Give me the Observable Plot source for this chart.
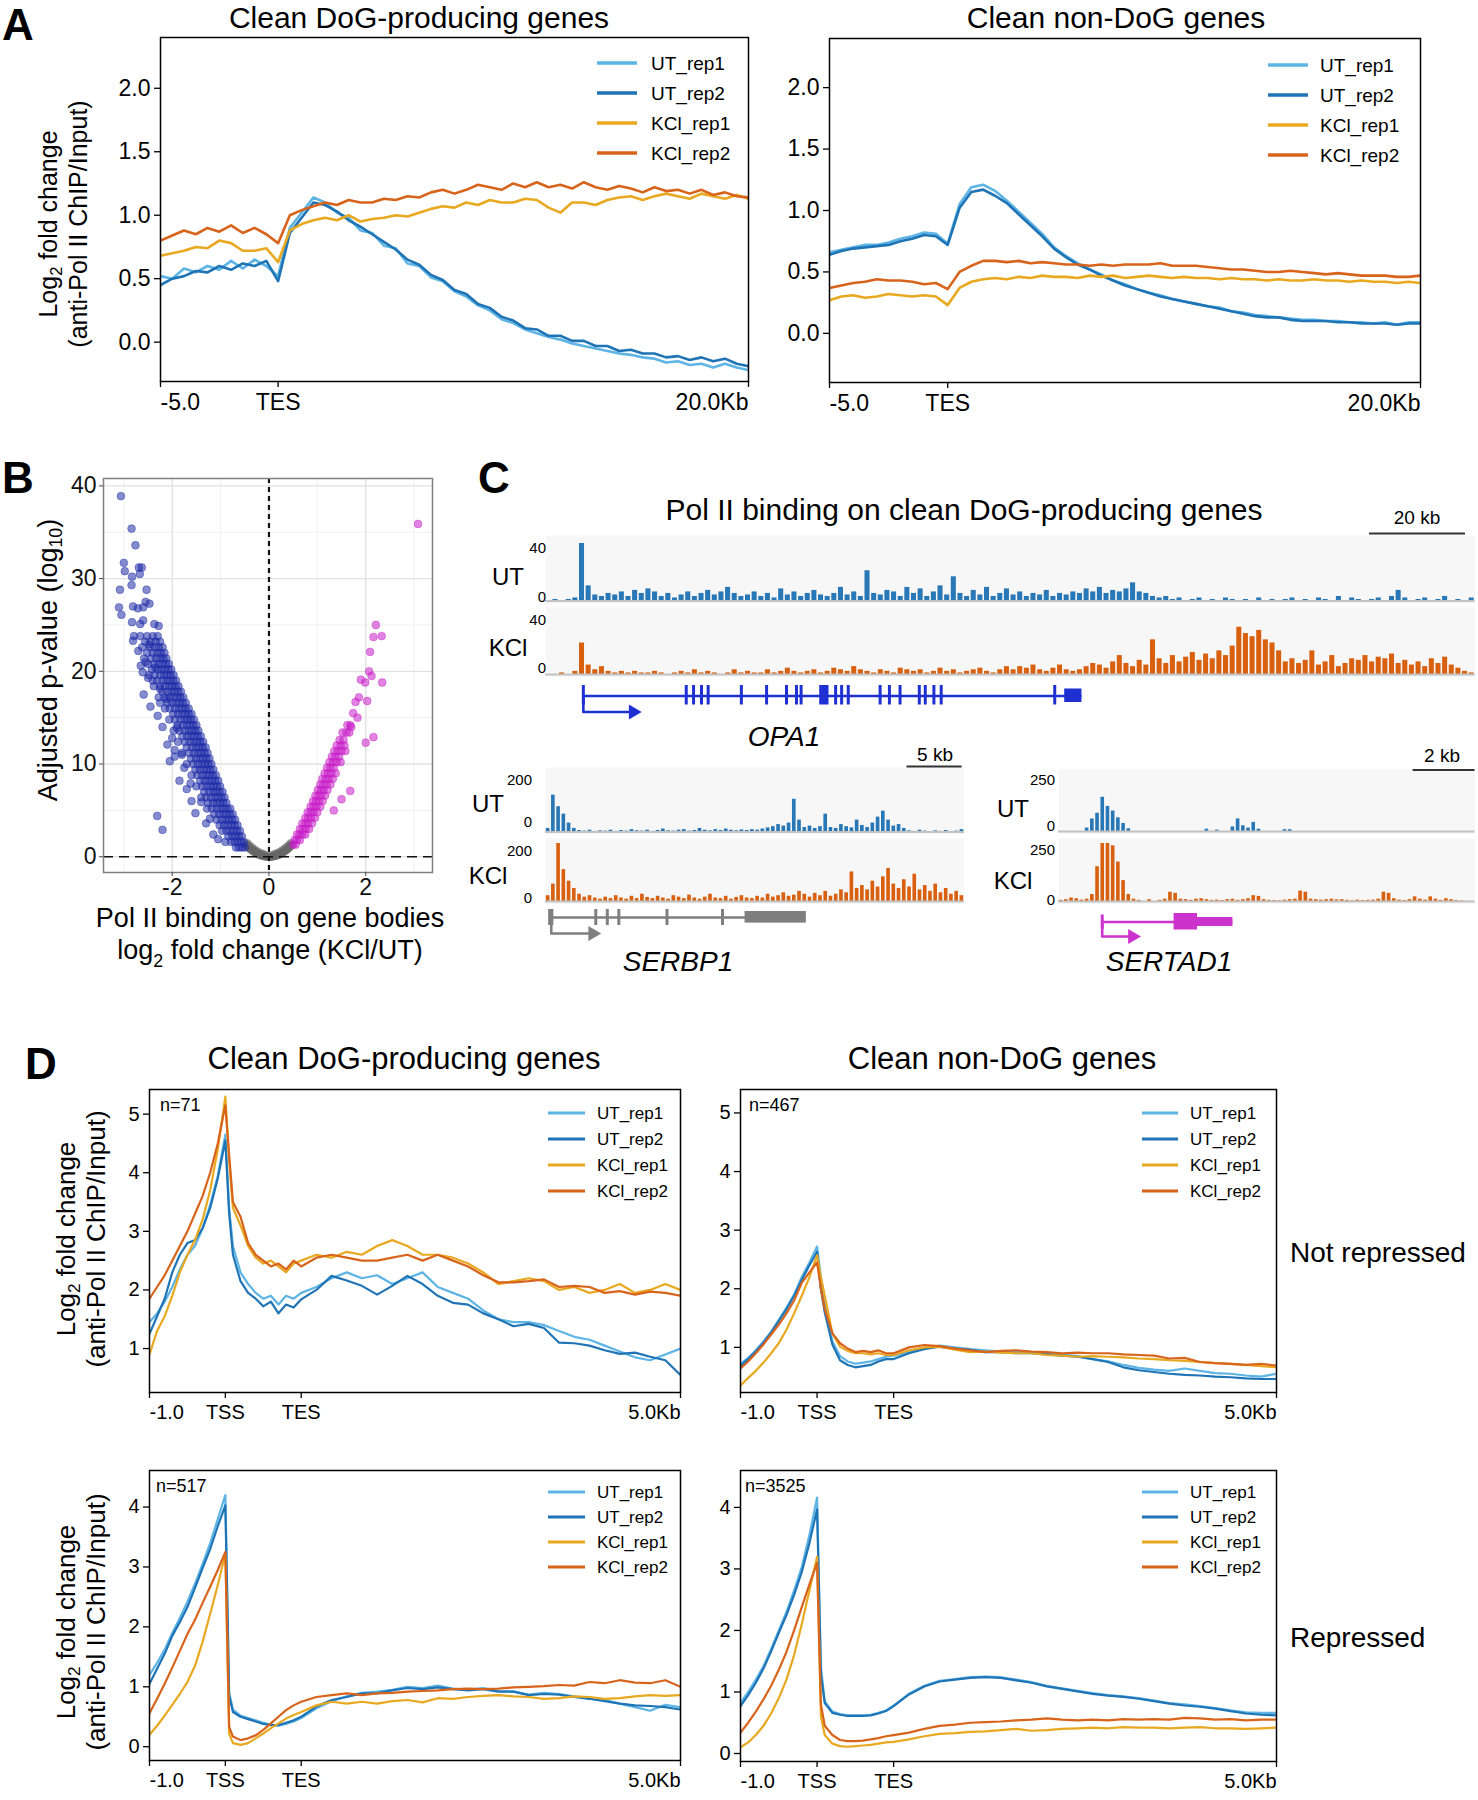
<!DOCTYPE html>
<html><head><meta charset="utf-8">
<script src="https://cdn.jsdelivr.net/npm/d3@7"></script>
<script src="https://cdn.jsdelivr.net/npm/@observablehq/plot@0.6"></script>
<style>
body{margin:0;background:#fff;}
#fig{position:relative;width:1478px;height:1800px;overflow:hidden;background:#fff;}
</style></head><body><div id="fig"></div>
<script>
// ---------------- DATA ----------------
const seriesNames = ["UT_rep1","UT_rep2","KCl_rep1","KCl_rep2"];

// Panel A: profiles around TES, sampled every 0.5 kb from -5 to 20 kb
const xA = d3.range(-5, 20.001, 0.5);
const aL_UT1 = [0.52,0.5,0.58,0.55,0.6,0.57,0.64,0.58,0.65,0.6,0.52, 0.9,1.02,1.14,1.1,1.02,0.98,0.88,0.86,0.76,0.74,0.62,0.6,0.51,0.48,0.4,0.36,0.29,0.25,0.18,0.15,0.1,0.07,0.04,0.02,-0.01,-0.03,-0.05,-0.07,-0.09,-0.1,-0.12,-0.13,-0.16,-0.15,-0.18,-0.17,-0.2,-0.17,-0.2,-0.22];
const aL_UT2 = [0.45,0.5,0.52,0.56,0.55,0.6,0.57,0.62,0.6,0.64,0.48, 0.86,0.98,1.1,1.08,1.03,0.96,0.91,0.85,0.79,0.73,0.65,0.61,0.53,0.49,0.41,0.38,0.3,0.27,0.2,0.17,0.11,0.1,0.05,0.05,0.01,0.01,-0.03,-0.03,-0.07,-0.06,-0.09,-0.09,-0.12,-0.11,-0.14,-0.12,-0.15,-0.13,-0.17,-0.19];
const aL_K1 = [0.68,0.7,0.72,0.75,0.74,0.8,0.78,0.72,0.72,0.74,0.63, 0.88,0.93,0.96,0.98,0.96,1.0,0.95,0.97,0.98,1.0,0.99,1.02,1.05,1.07,1.06,1.1,1.08,1.12,1.1,1.1,1.13,1.12,1.06,1.02,1.1,1.1,1.08,1.12,1.14,1.15,1.12,1.15,1.17,1.15,1.13,1.17,1.15,1.13,1.16,1.13];
const aL_K2 = [0.8,0.84,0.88,0.85,0.9,0.87,0.92,0.86,0.9,0.85,0.78, 1.0,1.04,1.07,1.1,1.08,1.12,1.1,1.1,1.13,1.12,1.15,1.14,1.18,1.2,1.17,1.2,1.24,1.22,1.2,1.25,1.22,1.26,1.22,1.24,1.21,1.26,1.22,1.2,1.23,1.21,1.18,1.22,1.19,1.2,1.17,1.2,1.16,1.18,1.15,1.14];
const aR_UT1 = [0.66,0.68,0.7,0.72,0.72,0.74,0.77,0.79,0.82,0.81,0.73, 1.05,1.19,1.21,1.16,1.08,0.99,0.9,0.81,0.7,0.63,0.57,0.52,0.48,0.43,0.4,0.36,0.33,0.31,0.28,0.26,0.24,0.22,0.21,0.18,0.17,0.15,0.14,0.13,0.12,0.11,0.11,0.1,0.1,0.09,0.09,0.08,0.09,0.07,0.09,0.09];
const aR_UT2 = [0.64,0.67,0.69,0.7,0.71,0.72,0.75,0.77,0.8,0.79,0.72, 1.02,1.15,1.17,1.12,1.06,0.97,0.88,0.79,0.69,0.62,0.56,0.52,0.47,0.43,0.39,0.36,0.33,0.3,0.28,0.26,0.24,0.22,0.2,0.18,0.16,0.14,0.13,0.13,0.11,0.1,0.1,0.1,0.09,0.09,0.08,0.08,0.08,0.07,0.08,0.08];
const aR_K1 = [0.27,0.3,0.31,0.29,0.3,0.32,0.31,0.3,0.31,0.3,0.23, 0.37,0.42,0.44,0.45,0.44,0.46,0.45,0.47,0.46,0.46,0.45,0.47,0.46,0.47,0.45,0.46,0.47,0.46,0.45,0.46,0.45,0.45,0.44,0.45,0.44,0.44,0.43,0.44,0.43,0.43,0.44,0.43,0.43,0.42,0.43,0.42,0.42,0.41,0.42,0.41];
const aR_K2 = [0.37,0.39,0.41,0.42,0.44,0.43,0.43,0.42,0.4,0.41,0.36, 0.5,0.55,0.59,0.59,0.58,0.59,0.57,0.58,0.57,0.56,0.56,0.55,0.56,0.55,0.56,0.56,0.56,0.57,0.55,0.55,0.55,0.54,0.53,0.52,0.52,0.51,0.5,0.5,0.51,0.5,0.49,0.48,0.49,0.48,0.47,0.47,0.47,0.46,0.46,0.47];

// Panel D: scaled-region profiles (-1 kb .. TSS=0 .. TES=1 .. +5 kb = 6)
const xD = [-1,-0.9,-0.8,-0.7,-0.6,-0.5,-0.4,-0.3,-0.2,-0.1,0,0.05,0.1,0.2,0.3,0.4,0.5,0.6,0.7,0.8,0.9,1,1.2,1.4,1.6,1.8,2,2.2,2.4,2.6,2.8,3,3.2,3.4,3.6,3.8,4,4.2,4.4,4.6,4.8,5,5.2,5.4,5.6,5.8,6];
const tl_UT1 = [1.45,1.6,1.8,2.05,2.35,2.6,2.75,3.05,3.45,3.95,4.65, 3.4,2.75,2.3,2.1,1.95,1.85,1.9,1.75,1.9,1.85,1.95, 2.05,2.2,2.3,2.2,2.25,2.1,2.2,2.3,2.05,1.95,1.85,1.65,1.5,1.45,1.45,1.4,1.3,1.2,1.15,1.05,0.95,0.85,0.8,0.9,1.0];
const tl_UT2 = [1.25,1.55,1.85,2.3,2.6,2.8,2.85,3.05,3.4,3.9,4.55, 3.3,2.6,2.15,1.95,1.85,1.72,1.8,1.6,1.75,1.7,1.84, 2.0,2.24,2.16,2.07,1.92,2.07,2.24,2.1,1.9,1.78,1.75,1.6,1.5,1.38,1.42,1.35,1.1,1.09,1.05,0.97,0.91,0.93,0.86,0.8,0.55];
const tl_K1 = [0.9,1.3,1.55,1.9,2.3,2.6,2.85,3.2,3.7,4.4,5.3, 4.2,3.4,3.1,2.75,2.55,2.45,2.5,2.4,2.3,2.45,2.5, 2.6,2.55,2.65,2.6,2.75,2.85,2.75,2.6,2.6,2.55,2.45,2.3,2.1,2.15,2.2,2.15,2.0,2.05,1.95,2.0,2.1,1.95,2.0,2.1,2.0];
const tl_K2 = [1.85,2.05,2.25,2.5,2.75,3.0,3.3,3.6,4.0,4.5,5.15, 4.3,3.5,3.25,2.8,2.6,2.5,2.4,2.45,2.35,2.5,2.4, 2.55,2.6,2.55,2.5,2.5,2.55,2.6,2.5,2.6,2.5,2.4,2.25,2.13,2.13,2.15,2.18,2.05,2.07,2.05,1.95,1.98,1.92,1.97,1.95,1.9];
const tr_UT1 = [0.72,0.82,0.95,1.1,1.27,1.47,1.68,1.9,2.2,2.45,2.72, 2.2,1.75,1.1,0.85,0.76,0.72,0.74,0.76,0.8,0.84,0.86, 0.92,0.98,1.03,1.0,0.97,0.95,0.93,0.94,0.92,0.9,0.88,0.85,0.8,0.76,0.7,0.65,0.62,0.6,0.64,0.6,0.56,0.55,0.52,0.5,0.55];
const tr_UT2 = [0.68,0.8,0.93,1.08,1.25,1.45,1.65,1.88,2.15,2.4,2.63, 2.0,1.6,1.05,0.78,0.7,0.66,0.68,0.7,0.76,0.8,0.8, 0.9,0.97,1.01,0.98,0.96,0.92,0.92,0.9,0.9,0.88,0.86,0.84,0.8,0.75,0.66,0.61,0.58,0.55,0.53,0.52,0.5,0.49,0.47,0.46,0.46];
const tr_K1 = [0.35,0.48,0.6,0.74,0.9,1.07,1.3,1.58,1.88,2.2,2.57, 2.2,1.88,1.24,1.01,0.94,0.9,0.9,0.88,0.9,0.87,0.87, 0.95,1.0,1.01,0.96,0.92,0.93,0.91,0.9,0.9,0.87,0.86,0.84,0.85,0.84,0.83,0.81,0.8,0.78,0.77,0.75,0.73,0.72,0.7,0.68,0.66];
const tr_K2 = [0.64,0.76,0.9,1.05,1.22,1.39,1.58,1.8,2.1,2.28,2.45, 2.0,1.65,1.24,1.07,0.98,0.92,0.94,0.92,0.95,0.9,0.9, 1.0,1.04,1.02,0.98,0.95,0.92,0.94,0.95,0.93,0.92,0.9,0.91,0.9,0.9,0.88,0.87,0.86,0.81,0.82,0.75,0.73,0.72,0.7,0.72,0.69];
const bl_UT1 = [1.2,1.4,1.62,1.9,2.15,2.42,2.72,3.05,3.4,3.8,4.2, 0.9,0.62,0.52,0.48,0.44,0.4,0.37,0.35,0.38,0.42,0.48, 0.64,0.76,0.84,0.9,0.92,0.95,1.0,0.98,1.02,0.97,0.95,0.98,0.93,0.92,0.87,0.9,0.88,0.84,0.8,0.78,0.72,0.66,0.6,0.7,0.66];
const bl_UT2 = [1.05,1.3,1.55,1.85,2.08,2.33,2.65,2.98,3.3,3.68,4.03, 0.85,0.58,0.5,0.46,0.42,0.38,0.36,0.36,0.4,0.44,0.5, 0.67,0.78,0.83,0.89,0.89,0.94,0.98,0.96,0.99,0.96,0.94,0.96,0.92,0.92,0.86,0.88,0.87,0.83,0.8,0.76,0.72,0.69,0.68,0.66,0.62];
const bl_K1 = [0.2,0.35,0.52,0.7,0.88,1.08,1.35,1.75,2.22,2.7,3.22, 0.22,0.06,0.03,0.06,0.14,0.22,0.31,0.39,0.47,0.53,0.58, 0.69,0.75,0.72,0.75,0.72,0.76,0.78,0.74,0.81,0.8,0.83,0.85,0.86,0.84,0.83,0.8,0.81,0.84,0.83,0.8,0.81,0.84,0.86,0.85,0.86];
const bl_K2 = [0.56,0.8,1.05,1.32,1.6,1.88,2.12,2.4,2.67,2.95,3.25, 0.33,0.17,0.11,0.14,0.19,0.28,0.39,0.5,0.61,0.69,0.75, 0.83,0.86,0.89,0.86,0.89,0.9,0.92,0.93,0.94,0.96,0.97,0.96,0.97,0.99,1.0,1.01,1.03,1.02,1.08,1.06,1.11,1.07,1.06,1.11,1.0];
const br_UT1 = [0.82,1.0,1.2,1.42,1.7,2.0,2.3,2.65,3.03,3.55,4.16, 1.4,0.85,0.68,0.64,0.62,0.62,0.62,0.63,0.66,0.7,0.78, 0.97,1.1,1.18,1.21,1.24,1.25,1.24,1.2,1.16,1.1,1.06,1.02,0.98,0.95,0.93,0.9,0.86,0.82,0.8,0.77,0.74,0.7,0.67,0.66,0.66];
const br_UT2 = [0.77,0.95,1.15,1.38,1.66,1.96,2.25,2.58,2.95,3.42,3.97, 1.3,0.82,0.66,0.63,0.61,0.61,0.61,0.62,0.65,0.69,0.77, 0.96,1.09,1.17,1.2,1.23,1.24,1.23,1.19,1.15,1.09,1.05,1.01,0.97,0.94,0.92,0.89,0.85,0.81,0.78,0.76,0.73,0.69,0.65,0.63,0.62];
const br_K1 = [0.1,0.18,0.3,0.45,0.65,0.9,1.2,1.6,2.1,2.65,3.2, 0.6,0.3,0.16,0.12,0.11,0.12,0.13,0.14,0.16,0.18,0.19, 0.23,0.28,0.32,0.33,0.35,0.36,0.38,0.4,0.37,0.38,0.4,0.41,0.42,0.41,0.43,0.42,0.42,0.41,0.42,0.43,0.41,0.41,0.4,0.41,0.42];
const br_K2 = [0.34,0.5,0.68,0.88,1.1,1.36,1.65,2.0,2.38,2.75,3.1, 0.8,0.45,0.3,0.22,0.2,0.2,0.21,0.23,0.25,0.28,0.3, 0.34,0.4,0.45,0.47,0.5,0.51,0.52,0.54,0.55,0.57,0.55,0.54,0.55,0.54,0.56,0.55,0.56,0.55,0.58,0.57,0.55,0.56,0.54,0.55,0.55];
const nLabels = ["n=71","n=467","n=517","n=3525"];

// Panel B: volcano (log2FC, -log10 adj p); rows = [y, x1, x2, ...]
const downRows = [
[1.0,-0.50,-0.56,-0.62,-0.68],[1.6,-0.52,-0.58,-0.64,-0.71,-0.78],[2.2,-0.56,-0.62,-0.69,-0.76,-0.84],
[2.8,-0.60,-0.66,-0.73,-0.80,-0.88,-0.97],[3.4,-0.65,-0.71,-0.78,-0.85,-0.93,-1.02],[4.0,-0.70,-0.76,-0.83,-0.90,-0.98,-1.08],
[4.6,-0.75,-0.81,-0.88,-0.95,-1.03,-1.13],[5.2,-0.80,-0.86,-0.93,-1.00,-1.08,-1.18,-1.28],[5.8,-0.88,-0.94,-1.01,-1.08,-1.16,-1.26],
[6.4,-0.92,-0.98,-1.05,-1.12,-1.20,-1.30,-1.40],[7.0,-0.96,-1.02,-1.09,-1.16,-1.24,-1.34],[7.6,-1.01,-1.07,-1.14,-1.21,-1.29,-1.38,-1.50],
[8.2,-1.05,-1.11,-1.18,-1.25,-1.33,-1.42],[8.8,-1.10,-1.16,-1.23,-1.30,-1.38,-1.48,-1.60],[9.4,-1.15,-1.21,-1.28,-1.35,-1.43,-1.52],
[10.0,-1.19,-1.25,-1.32,-1.39,-1.47,-1.57,-1.70],[10.6,-1.23,-1.29,-1.36,-1.43,-1.51,-1.61],[11.2,-1.27,-1.33,-1.40,-1.47,-1.55,-1.65,-1.80],
[11.8,-1.31,-1.37,-1.44,-1.51,-1.59,-1.70],[12.4,-1.36,-1.42,-1.49,-1.56,-1.64,-1.74,-1.88],[13.0,-1.41,-1.47,-1.54,-1.61,-1.69,-1.79],
[13.6,-1.46,-1.52,-1.59,-1.66,-1.74,-1.85,-1.97],[14.2,-1.50,-1.56,-1.63,-1.70,-1.78,-1.89],[14.8,-1.55,-1.61,-1.68,-1.75,-1.83,-1.94,-2.06],
[15.4,-1.60,-1.66,-1.73,-1.80,-1.88,-1.98],[16.0,-1.66,-1.72,-1.79,-1.86,-1.94,-2.05,-2.15],[16.6,-1.72,-1.78,-1.85,-1.92,-2.00,-2.10],
[17.2,-1.77,-1.83,-1.90,-1.97,-2.05,-2.16,-2.28],[17.8,-1.82,-1.88,-1.95,-2.02,-2.10,-2.20],[18.4,-1.87,-1.93,-2.00,-2.07,-2.15,-2.25,-2.38],
[19.0,-1.92,-1.98,-2.05,-2.12,-2.20,-2.31],[19.6,-1.97,-2.03,-2.10,-2.17,-2.25,-2.36,-2.48],[20.2,-2.02,-2.08,-2.15,-2.22,-2.30,-2.42],
[20.8,-2.07,-2.13,-2.20,-2.28,-2.37,-2.50],[21.4,-2.12,-2.18,-2.25,-2.33,-2.43,-2.58],[22.0,-2.16,-2.23,-2.31,-2.40,-2.52],
[22.6,-2.20,-2.28,-2.36,-2.46,-2.62],[23.2,-2.25,-2.34,-2.44,-2.56],[23.8,-2.30,-2.40,-2.52,-2.66]];
const downExtra = [[-3.06,38.9],[-2.84,35.4],[-2.76,33.6],[-3.0,31.7],[-2.98,30.8],[-2.69,31.2],[-2.63,31.2],[-2.83,30.2],[-2.67,30.5],[-2.84,29.3],[-3.08,28.8],[-2.53,28.8],[-3.1,26.9],[-3.05,26.1],[-2.81,27.0],[-2.71,26.8],[-2.6,26.9],[-2.55,27.5],[-2.47,27.3],[-2.83,25.3],[-2.66,25.1],[-2.6,25.5],[-2.37,25.1],[-2.28,24.9],[-2.79,23.8],[-2.81,23.3],[-2.31,4.4],[-2.2,2.9],[-2.05,10.3],[-2.59,17.5],[-2.61,19.9],[-2.45,16.2],[-2.55,21.0],[-2.7,22.2],[-2.4,19.0],[-2.2,14.0],[-1.95,11.5],[-2.3,15.2],[-1.85,8.2],[-1.6,6.0],[-1.7,7.3],[-2.0,12.8],[-1.3,3.6],[-1.15,2.4],[-0.9,1.6],[-1.05,1.9],
[-1.52,4.7],[-1.75,9.6],[-1.9,13.9],[-2.12,17.0],[-2.25,18.1],[-2.35,20.4],[-2.48,22.9],[-1.62,7.9],[-1.4,5.9],[-1.22,4.1],[-1.95,10.8],[-2.1,12.1],[-2.5,19.3],[-2.65,20.6],[-1.8,11.0],[-2.25,16.6]];
const upRows = [
[1.3,0.50,0.55],[1.8,0.53,0.58,0.64],[2.4,0.58,0.63,0.69,0.75],[3.0,0.64,0.70,0.76,0.83],[3.6,0.69,0.75,0.81,0.89],
[4.2,0.75,0.81,0.87,0.95],[4.8,0.80,0.86,0.92,1.00],[5.4,0.86,0.92,0.98,1.06],[6.0,0.91,0.97,1.03,1.11],[6.6,0.96,1.02,1.08,1.16],
[7.2,1.01,1.07,1.13,1.21],[7.8,1.06,1.12,1.19,1.27],[8.4,1.10,1.17,1.24,1.32],[9.0,1.15,1.22,1.29,1.38],[9.6,1.20,1.27,1.34],
[10.2,1.25,1.32,1.40,1.48],[10.8,1.30,1.37,1.45],[11.4,1.35,1.42,1.50,1.58],[12.0,1.40,1.48,1.56],[12.6,1.46,1.54],
[13.4,1.52,1.60,1.66],[14.2,1.62,1.68]];
const upExtra = [[2.0,12.3],[2.16,12.9],[1.83,15.0],[1.79,16.7],[1.86,17.2],[1.9,19.1],[1.99,18.8],[2.03,16.8],[2.07,20.0],[2.12,19.5],[2.09,22.1],[2.16,23.7],[2.33,23.8],[2.21,25.0],[2.34,18.8],[3.08,35.9],[1.68,7.1],[1.5,6.2],[1.34,5.0],[1.7,14.0],[1.74,15.5]];
const nsPts = [[-0.47,1.3],[-0.44,1.1],[-0.41,0.95],[-0.38,0.8],[-0.35,0.7],[-0.32,0.58],[-0.29,0.47],[-0.26,0.38],[-0.23,0.3],[-0.2,0.22],[-0.17,0.16],[-0.14,0.11],[-0.11,0.07],[-0.08,0.04],[-0.05,0.015],[-0.02,0.0],[0.02,0.0],[0.05,0.015],[0.08,0.04],[0.11,0.07],[0.14,0.11],[0.17,0.16],[0.2,0.22],[0.23,0.3],[0.26,0.38],[0.29,0.47],[0.32,0.58],[0.35,0.7],[0.38,0.8],[0.41,0.95],[0.44,1.1],[0.47,1.3],[-0.45,1.45],[-0.4,1.2],[-0.34,0.95],[-0.28,0.7],[-0.22,0.5],[-0.16,0.35],[-0.1,0.25],[0.1,0.25],[0.16,0.35],[0.22,0.5],[0.28,0.7],[0.34,0.95],[0.4,1.2],[0.45,1.45]];

// Panel C: genome-browser coverage (bins)
const opa1UT = [0,1,0,1,2,38,10,4,3,5, 4,6,3,7,5,8,6,3,5,2, 4,6,3,5,7,4,6,9,5,3, 4,6,3,5,2,8,4,6,3,5, 7,4,3,5,9,4,6,3,20,5, 4,7,6,3,9,5,8,3,6,10, 4,16,5,3,7,4,9,3,5,8, 4,6,3,5,4,7,3,5,4,6, 5,8,6,9,5,7,6,8,12,6, 5,3,2,3,1,2,0,1,2,0, 1,0,2,1,0,1,0,2,0,1, 0,1,2,0,1,0,2,1,0,3, 0,2,1,0,1,2,0,3,7,2, 0,1,2,0,1,3,0,1,0,2];
const opa1KCl = [0,0,1,0,2,20,6,3,5,2, 1,2,1,2,1,1,2,1,0,1, 2,1,3,1,2,1,0,1,3,1, 2,1,1,3,1,2,4,2,1,2, 3,1,2,4,3,2,5,3,2,1, 3,2,1,4,3,2,3,1,2,4, 2,3,1,2,3,4,2,1,3,5, 3,5,4,6,3,2,4,6,3,2, 3,5,7,6,4,8,12,7,5,9, 6,22,10,7,12,8,11,14,9,13, 10,15,12,18,30,26,24,28,22,20, 15,8,10,7,9,15,6,8,12,5, 7,10,9,12,8,11,10,13,7,9, 6,8,5,10,7,11,6,4,2,1];
const serbp1UT = [12,124,85,60,30,12,5,3,6,2, 4,3,6,2,5,3,8,4,3,6, 2,5,10,4,3,6,8,3,5,12, 6,4,8,5,10,6,4,7,5,8, 6,10,14,18,25,20,30,110,40,15, 20,12,18,60,15,12,25,18,14,40, 22,15,30,50,70,40,20,25,12,4, 2,6,3,1,4,2,5,1,3,8];
const serbp1KCl = [20,60,200,110,70,45,25,15,20,12, 8,15,10,20,12,8,18,10,25,14, 10,18,12,8,20,15,10,22,12,8, 15,25,12,10,18,8,14,20,12,10, 18,12,25,15,20,30,18,22,35,25, 15,28,20,35,18,25,40,30,102,45, 55,40,70,50,85,114,60,45,75,50, 94,40,55,35,60,30,45,25,35,20];
const sertad1UT = [0,0,0,0,0,15,55,80,150,110, 90,60,35,12,0,0,0,0,0,0, 0,0,0,0,0,0,0,0,10,0, 6,0,0,20,55,25,15,40,10,0, 0,0,0,8,8,0,0,0,0,0, 0,0,0,0,0,0,0,0,0,0, 0,0,0,0,0,0,0,0,0,0, 0,0,0,0,0,0,0,0,0,0];
const sertad1KCl = [5,8,15,12,6,10,30,150,250,250, 240,170,90,30,10,5,0,8,0,5, 10,40,35,10,8,5,10,12,8,5, 6,4,8,10,5,8,12,25,22,8, 5,4,3,6,8,10,45,40,10,8, 6,8,10,7,8,5,3,6,4,5, 6,10,40,35,12,6,4,8,20,10, 6,20,10,5,12,8,4,2,1,0];
// gene models in bin coordinates
const opa1Gene = {start:5.7, end:80.8, exons:[5.7,21.2,22.3,23.5,24.5,29.5,33.3,36.3,37.8,38.5,43.7,44.6,45.6,50.4,51.8,53.4,56.3,57.2,58.5,59.6,76.7], wide:[[41.3,42.7]], utr:[[78.2,80.8]], arrowTo:13.2};
const serbp1Gene = {start:1.1, end:49.8, exons:[9.6,11.8,14.0,23.2,33.8], wide:[[0.6,1.6]], utr:[[38.1,49.8]], arrowTo:9.0};
const sertad1Gene = {start:8.4, end:33.5, exons:[8.4], wide:[[22.2,26.7]], utr:[[26.7,33.5]], arrowTo:14.2};

// ---------------- DRAWING ----------------
const FONT = '"Liberation Sans", Arial, Helvetica, sans-serif';
const seriesColors = ["#5DB4E5","#1F74B6","#E8A820","#D8641C"];
const fig = document.getElementById("fig");
function put(node, left, top){ const d=document.createElement("div"); d.style.position="absolute"; d.style.left=left+"px"; d.style.top=top+"px"; d.appendChild(node); fig.appendChild(d); }

function profile(fr, xDom, yDom, xs, vals, yTicks, yFmt, xTicks, fs, lw){
  const mL=60,mR=14,mT=12,mB=45;
  const [x0,y0,x1,y1]=fr;
  const svg = Plot.plot({
    width:x1-x0+mL+mR, height:y1-y0+mT+mB, marginLeft:mL, marginRight:mR, marginTop:mT, marginBottom:mB,
    x:{domain:xDom}, y:{domain:yDom},
    style:{fontFamily:FONT, fontSize:fs+"px", color:"#000", background:"transparent", overflow:"visible"},
    marks:[
      ...vals.map((v,k)=>Plot.line(v,{x:(d,i)=>xs[i], y:d=>d, stroke:seriesColors[k], strokeWidth:lw, clip:true})),
      Plot.frame({stroke:"#000", strokeWidth:1.5}),
      Plot.axisY(yTicks,{tickFormat:yFmt, tickSize:6, tickPadding:4, strokeWidth:1.3, label:null, fontSize:fs}),
      ...xTicks.map(t=>Plot.axisX([t[0]],{tickFormat:()=>t[1], textAnchor:t[2], tickSize:6, tickPadding:6, strokeWidth:1.3, label:null, fontSize:fs}))
    ]});
  put(svg, x0-mL, y0-mT);
}

// Panel A
const f1 = d3.format(".1f");
const aXT = [[-5,"-5.0","start"],[0,"TES","middle"],[20,"20.0Kb","end"]];
profile([160,37,748,381],[-5,20],[-0.31,2.40],xA,[aL_UT1,aL_UT2,aL_K1,aL_K2],[0,0.5,1,1.5,2],f1,aXT,23,2.6);
profile([829,38,1420,382],[-5,20],[-0.40,2.40],xA,[aR_UT1,aR_UT2,aR_K1,aR_K2],[0,0.5,1,1.5,2],f1,aXT,23,2.6);

// Panel D
const dXT = [[-1,"-1.0","start"],[0,"TSS","middle"],[1,"TES","middle"],[6,"5.0Kb","end"]];
profile([149,1089,680,1392],[-1,6],[0.25,5.42],xD,[tl_UT1,tl_UT2,tl_K1,tl_K2],[1,2,3,4,5],String,dXT,20,2.2);
profile([740,1089,1276,1392],[-1,6],[0.23,5.40],xD,[tr_UT1,tr_UT2,tr_K1,tr_K2],[1,2,3,4,5],String,dXT,20,2.2);
profile([149,1470,680,1760],[-1,6],[-0.23,4.61],xD,[bl_UT1,bl_UT2,bl_K1,bl_K2],[0,1,2,3,4],String,dXT,20,2.2);
profile([740,1470,1276,1761],[-1,6],[-0.13,4.60],xD,[br_UT1,br_UT2,br_K1,br_K2],[0,1,2,3,4],String,dXT,20,2.2);

// Panel B
{
  const down = downRows.flatMap(r=>r.slice(1).map(x=>[x,r[0]])).concat(downExtra);
  const up = upRows.flatMap(r=>r.slice(1).map(x=>[x,r[0]])).concat(upExtra);
  const mL=50,mR=8,mT=8,mB=45;
  const dot = (c,op)=>({x:d=>d[0], y:d=>d[1], r:3.9, fill:c, fillOpacity:op, stroke:c, strokeOpacity:0.5, strokeWidth:0.8});
  const svg = Plot.plot({
    width:432-103+mL+mR, height:872-478+mT+mB, marginLeft:mL, marginRight:mR, marginTop:mT, marginBottom:mB,
    x:{domain:[-3.42,3.38]}, y:{domain:[-1.7,40.8]},
    style:{fontFamily:FONT, fontSize:"23px", color:"#111", background:"transparent", overflow:"visible"},
    marks:[
      Plot.gridX([-3,-1,1,3],{stroke:"#f0f0f0", strokeOpacity:1, strokeWidth:1}),
      Plot.gridY([5,15,25,35],{stroke:"#f0f0f0", strokeOpacity:1, strokeWidth:1}),
      Plot.gridX([-2,0,2],{stroke:"#e2e2e2", strokeOpacity:1, strokeWidth:1.4}),
      Plot.gridY([0,10,20,30,40],{stroke:"#e2e2e2", strokeOpacity:1, strokeWidth:1.4}),
      Plot.dot(nsPts, dot("#666666",0.6)),
      Plot.dot(down, dot("#1f2ca8",0.55)),
      Plot.dot(up, dot("#c81ec8",0.55)),
      Plot.ruleX([0],{stroke:"#111", strokeWidth:2.2, strokeDasharray:"5,4"}),
      Plot.ruleY([0],{stroke:"#111", strokeWidth:1.6, strokeDasharray:"10,6"}),
      Plot.frame({stroke:"#7f7f7f", strokeWidth:1.5}),
      Plot.axisY([0,10,20,30,40],{tickSize:4, tickPadding:3, stroke:"#444", label:null, fontSize:23}),
      Plot.axisX([-2,0,2],{tickFormat:d=>String(d), tickSize:4, tickPadding:2, stroke:"#444", label:null, fontSize:23})
    ]});
  put(svg, 103-mL, 478-mT);
}

// Panel C tracks
function track(left, top, w, h, vals, max, color){
  const base=3, pad=5, upp=max/(h-base-pad);
  const svg = Plot.plot({
    width:w, height:h, margin:0,
    x:{domain:[0, vals.length], axis:null}, y:{domain:[-base*upp, max+pad*upp], axis:null},
    style:{background:"transparent"},
    marks:[
      Plot.frame({fill:"#f7f7f7", stroke:"none"}),
      Plot.rect(vals,{x1:(d,i)=>i, x2:(d,i)=>i+1, y1:0, y2:d=>Math.min(d,max), fill:color, insetLeft:0.8, insetRight:0.8}),
      Plot.ruleY([0],{stroke:"#c2c2c2", strokeWidth:2})
    ]});
  put(svg, left, top);
}
const UTC = "#2877B6", KCLC = "#D9600F";
track(545,535,929.5,68.5,opa1UT,40,UTC);
track(545,606,929.5,71,opa1KCl,40,KCLC);
track(545,766.5,419,67.5,serbp1UT,200,UTC);
track(545,838,419,66,serbp1KCl,200,KCLC);
track(1058,769,416.5,65,sertad1UT,250,UTC);
track(1058,838,416.5,66,sertad1KCl,250,KCLC);

function gene(left, top, w, n, g, color, L){
  const svg = Plot.plot({
    width:w, height:L.h, margin:0,
    x:{domain:[0,n], axis:null}, y:{domain:[0,L.h], range:[0,L.h], axis:null},
    style:{background:"transparent", overflow:"visible"},
    marks:[
      Plot.ruleY([L.line],{x1:g.start, x2:g.end, stroke:color, strokeWidth:2.6}),
      Plot.ruleX(g.exons,{x:d=>d, y1:L.ex[0], y2:L.ex[1], stroke:color, strokeWidth:3}),
      Plot.rect(g.wide,{x1:d=>d[0], x2:d=>d[1], y1:L.wide[0], y2:L.wide[1], fill:color}),
      Plot.rect(g.utr,{x1:d=>d[0], x2:d=>d[1], y1:L.utr[0], y2:L.utr[1], fill:color}),
      Plot.line([[g.start,L.line],[g.start,L.arrowY],[g.arrowTo,L.arrowY]],{x:d=>d[0], y:d=>d[1], stroke:color, strokeWidth:2.6}),
      Plot.dot([[g.arrowTo,L.arrowY]],{x:d=>d[0], y:d=>d[1], symbol:"triangle", rotate:90, r:5.5, fill:color})
    ]});
  put(svg, left, top);
}
gene(545,685,929.5,140,opa1Gene,"#1f30d2",{h:36,line:10.5,ex:[0,19.5],wide:[0,19.5],utr:[3.5,17],arrowY:26.5});
gene(545,905,419,80,serbp1Gene,"#7f7f7f",{h:36,line:12,ex:[4,20],wide:[4,20],utr:[6,17.6],arrowY:28});
gene(1058,905,416.5,80,sertad1Gene,"#cc33cc",{h:40,line:16.5,ex:[9.5,23.5],wide:[8,24.5],utr:[12,21],arrowY:31});

// ---------------- TEXT OVERLAY ----------------
const ov = d3.select(fig).append("svg").attr("width",1478).attr("height",1800)
  .style("position","absolute").style("left","0").style("top","0").style("font-family",FONT);
function T(x,y,parts,o={}){
  const size=o.size||20;
  const t = ov.append("text").attr("x",x).attr("y",y).attr("font-size",size)
    .attr("text-anchor",o.anchor||"start").attr("fill",o.fill||"#000");
  if(o.weight) t.attr("font-weight",o.weight);
  if(o.italic) t.attr("font-style","italic");
  if(o.rot){ t.attr("x",0).attr("y",0).attr("transform",`translate(${x},${y}) rotate(-90)`).attr("dominant-baseline","central"); }
  if(typeof parts==="string") parts=[[parts]];
  let sub=false;
  parts.forEach(([s,k])=>{
    const sp=t.append("tspan").text(s);
    if(k==="sub"){ sp.attr("font-size",size*0.66).attr("dy",size*0.3); sub=true; }
    else if(sub){ sp.attr("dy",-size*0.3); sub=false; }
  });
}
function legend(xl0,xl1,xt,ys,size,lw){
  seriesNames.forEach((n,i)=>{
    ov.append("line").attr("x1",xl0).attr("x2",xl1).attr("y1",ys[i]).attr("y2",ys[i]).attr("stroke",seriesColors[i]).attr("stroke-width",lw);
    T(xt, ys[i]+size*0.36, n, {size});
  });
}
function sbar(x0,x1,y){ ov.append("line").attr("x1",x0).attr("x2",x1).attr("y1",y).attr("y2",y).attr("stroke","#333").attr("stroke-width",2); }

// panel letters
T(2,40,"A",{size:44,weight:"bold"});
T(2,493,"B",{size:44,weight:"bold"});
T(478,493,"C",{size:44,weight:"bold"});
T(25,1079,"D",{size:44,weight:"bold"});

// A
T(419,28,"Clean DoG-producing genes",{size:30,anchor:"middle"});
T(1116,28,"Clean non-DoG genes",{size:30,anchor:"middle"});
T(48,224,[["Log"],["2","sub"],[" fold change"]],{size:25,anchor:"middle",rot:true});
T(78,224,"(anti-Pol II ChIP/Input)",{size:25,anchor:"middle",rot:true});
legend(597,637,651,[63,93,123,153],19,3.5);
legend(1268,1308,1320,[65,95,125,155],19,3.5);

// B
T(48,660,[["Adjusted p-value (log"],["10","sub"],[")"]],{size:27,anchor:"middle",rot:true});
T(270,927,"Pol II binding on gene bodies",{size:27,anchor:"middle"});
T(270,959,[["log"],["2","sub"],[" fold change (KCl/UT)"]],{size:27,anchor:"middle"});

// C
T(964,520,"Pol II binding on clean DoG-producing genes",{size:30,anchor:"middle"});
T(1417,524,"20 kb",{size:19,anchor:"middle"}); sbar(1369,1465,533.6);
T(508,585,"UT",{size:24,anchor:"middle"}); T(508,656,"KCl",{size:24,anchor:"middle"});
T(546,553,"40",{size:15,anchor:"end"}); T(546,602,"0",{size:15,anchor:"end"});
T(546,625,"40",{size:15,anchor:"end"}); T(546,673,"0",{size:15,anchor:"end"});
T(784,746,"OPA1",{size:28,anchor:"middle",italic:true});
T(935,761,"5 kb",{size:19,anchor:"middle"}); sbar(906.5,961.6,766.5);
T(488,812,"UT",{size:24,anchor:"middle"}); T(488,884,"KCl",{size:24,anchor:"middle"});
T(532,785,"200",{size:15,anchor:"end"}); T(532,827,"0",{size:15,anchor:"end"});
T(532,856,"200",{size:15,anchor:"end"}); T(532,903,"0",{size:15,anchor:"end"});
T(678,971,"SERBP1",{size:28,anchor:"middle",italic:true});
T(1442,762,"2 kb",{size:19,anchor:"middle"}); sbar(1412.6,1474.5,770);
T(1013,817,"UT",{size:24,anchor:"middle"}); T(1013,889,"KCl",{size:24,anchor:"middle"});
T(1055,785,"250",{size:15,anchor:"end"}); T(1055,831,"0",{size:15,anchor:"end"});
T(1055,855,"250",{size:15,anchor:"end"}); T(1055,905,"0",{size:15,anchor:"end"});
T(1169,971,"SERTAD1",{size:28,anchor:"middle",italic:true});

// D
T(404,1069,"Clean DoG-producing genes",{size:31,anchor:"middle"});
T(1002,1069,"Clean non-DoG genes",{size:31,anchor:"middle"});
T(160,1111,nLabels[0],{size:18}); T(749,1111,nLabels[1],{size:18});
T(156,1492,nLabels[2],{size:18}); T(745,1492,nLabels[3],{size:18});
legend(548,585,597,[1113,1139,1165,1191],17,3);
legend(1142,1178,1190,[1113,1139,1165,1191],17,3);
legend(548,585,597,[1492,1517,1542,1567],17,3);
legend(1142,1178,1190,[1492,1517,1542,1567],17,3);
T(66,1239,[["Log"],["2","sub"],[" fold change"]],{size:26,anchor:"middle",rot:true});
T(96,1239,"(anti-Pol II ChIP/Input)",{size:26,anchor:"middle",rot:true});
T(66,1622,[["Log"],["2","sub"],[" fold change"]],{size:26,anchor:"middle",rot:true});
T(96,1622,"(anti-Pol II ChIP/Input)",{size:26,anchor:"middle",rot:true});
T(1290,1262,"Not repressed",{size:28});
T(1290,1647,"Repressed",{size:28});
</script>
</body></html>
